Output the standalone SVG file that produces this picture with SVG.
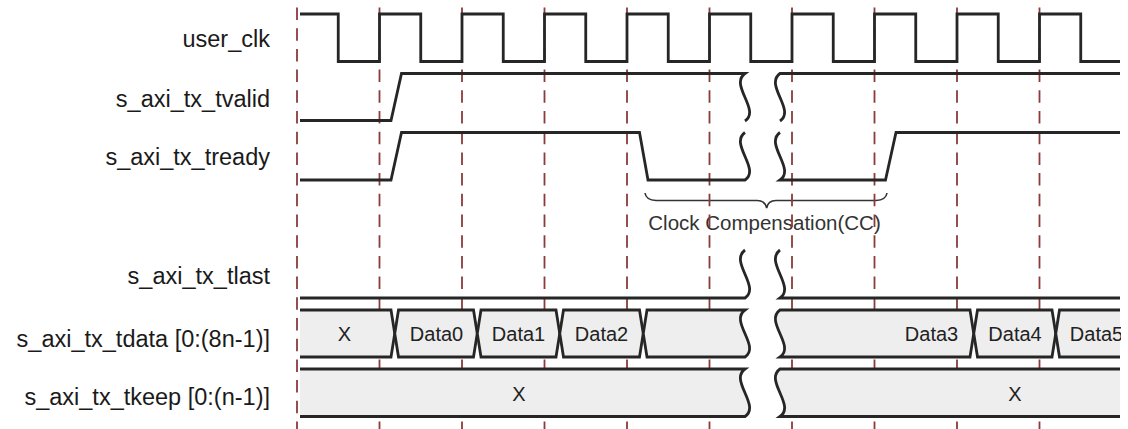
<svg xmlns="http://www.w3.org/2000/svg" width="1128" height="429" viewBox="0 0 1128 429">
<style>
.lbl{font-family:"Liberation Sans",Arial,sans-serif;font-size:23.5px;fill:#1a1a1a;text-anchor:end}
.bt{font-family:"Liberation Sans",Arial,sans-serif;font-size:20px;fill:#222;text-anchor:middle}
.cc{font-family:"Liberation Sans",Arial,sans-serif;font-size:20.5px;fill:#333}
.sig{fill:none;stroke:#262626;stroke-width:2.8;stroke-linejoin:miter}
.bus{fill:#eeeeee;stroke:#262626;stroke-width:2.8;stroke-linejoin:miter}
.grid{stroke:#8a3b3b;stroke-width:1.8;stroke-dasharray:12.5 8.2}
.brace{fill:none;stroke:#333;stroke-width:1.6}
</style>
<defs>
<clipPath id="clipR"><rect x="0" y="0" width="1121" height="429"/></clipPath>
</defs>
<rect width="1128" height="429" fill="#ffffff"/>

<g id="labels">
<text class="lbl" x="270" y="47">user_clk</text>
<text class="lbl" x="270" y="107">s_axi_tx_tvalid</text>
<text class="lbl" x="270" y="165">s_axi_tx_tready</text>
<text class="lbl" x="270" y="283.5">s_axi_tx_tlast</text>
<text class="lbl" x="270" y="346.5">s_axi_tx_tdata [0:(8n-1)]</text>
<text class="lbl" x="270" y="405">s_axi_tx_tkeep [0:(n-1)]</text>
</g>

<g id="cc-annotation">
<path class="brace" d="M645,193 Q646,200 656,200.5 H757 Q765,200.5 766.7,208 Q768,200.5 776,200.5 H876 Q886,200 887,193"/>
<text class="cc" x="648.3" y="230">Clock Compensation(CC)</text>
</g>

<g id="connectors">
<line class="grid" x1="297" y1="7.5" x2="297" y2="429"/>
<line class="grid" x1="379.5" y1="7.5" x2="379.5" y2="429"/>
<line class="grid" x1="462" y1="7.5" x2="462" y2="429"/>
<line class="grid" x1="544.5" y1="7.5" x2="544.5" y2="429"/>
<line class="grid" x1="627" y1="7.5" x2="627" y2="429"/>
<line class="grid" x1="709.5" y1="7.5" x2="709.5" y2="429"/>
<line class="grid" x1="792" y1="7.5" x2="792" y2="429"/>
<line class="grid" x1="874.5" y1="7.5" x2="874.5" y2="429"/>
<line class="grid" x1="957" y1="7.5" x2="957" y2="429"/>
<line class="grid" x1="1039.5" y1="7.5" x2="1039.5" y2="429"/>
</g>

<g id="user_clk">
<path class="sig" d="M300,14 H338.25 V61.5 H379.5 V14 H420.75 V61.5 H462 V14 H503.25 V61.5 H544.5 V14 H585.75 V61.5 H627 V14 H668.25 V61.5 H709.5 V14 H750.75 V61.5 H792 V14 H833.25 V61.5 H874.5 V14 H915.75 V61.5 H957 V14 H998.25 V61.5 H1039.5 V14 H1080.75 V61.5 H1120"/>
</g>

<g id="s_axi_tx_tvalid">
<path class="sig" d="M300,120.5 H391 L401.5,73.5 H745 C729,84.9 761,110.1 745,121"/>
<path class="sig" d="M780,121 C796,110.1 764,84.9 780,73.5 H1120"/>
</g>

<g id="s_axi_tx_tready">
<path class="sig" d="M300,180 H391 L401.5,132.5 H639.5 L648,180 H745 C761,169.1 729,143.9 745,132.5"/>
<path class="sig" d="M780,132.5 C764,143.9 796,169.1 780,180 H885.5 L896,132.5 H1120"/>
</g>

<g id="s_axi_tx_tlast">
<path class="sig" d="M300,298 H745 C761,287 729,261.5 745,250"/>
<path class="sig" d="M780,250 C764,261.5 796,287 780,298 H1120"/>
</g>

<g id="s_axi_tx_tdata">
<path class="bus" d="M300,310 H391 L394.75,333.5 L391,357 H300"/>
<path class="bus" d="M394.75,333.5 L398.5,310 H473.5 L477.25,333.5 L473.5,357 H398.5 Z"/>
<path class="bus" d="M477.25,333.5 L481,310 H556 L559.75,333.5 L556,357 H481 Z"/>
<path class="bus" d="M559.75,333.5 L563.5,310 H639.5 L643.25,333.5 L639.5,357 H563.5 Z"/>
<path class="bus" d="M643.25,333.5 L647,310 H745 C729,321.3 761,346.2 745,357 H647 Z"/>
<path class="bus" d="M780,310 H970 L973.75,333.5 L970,357 H780 C796,346.2 764,321.3 780,310 Z"/>
<path class="bus" d="M973.75,333.5 L977.5,310 H1052 L1055.75,333.5 L1052,357 H977.5 Z"/>
<path class="bus" d="M1120,310 H1059.5 L1055.75,333.5 L1059.5,357 H1120"/>
<g clip-path="url(#clipR)">
<text class="bt" x="344.5" y="341">X</text>
<text class="bt" x="436.5" y="341">Data0</text>
<text class="bt" x="518.5" y="341">Data1</text>
<text class="bt" x="601.5" y="341">Data2</text>
<text class="bt" x="931.5" y="341">Data3</text>
<text class="bt" x="1015" y="341">Data4</text>
<text class="bt" x="1096.5" y="341">Data5</text>
</g>
</g>

<g id="s_axi_tx_tkeep">
<path class="bus" d="M300,369 H745 C729,380.4 761,405.6 745,416.5 H300"/>
<path class="bus" d="M1120,369 H780 C764,380.4 796,405.6 780,416.5 H1120"/>
<text class="bt" x="519" y="401">X</text>
<text class="bt" x="1015" y="401">X</text>
</g>
</svg>
